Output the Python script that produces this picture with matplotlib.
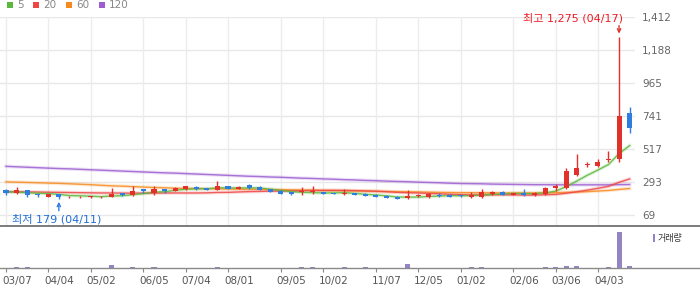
import matplotlib
matplotlib.use("Agg")
import matplotlib.pyplot as plt
import numpy as np
from matplotlib.lines import Line2D
from matplotlib.patches import Rectangle
from matplotlib.transforms import ScaledTranslation

# weekly candles, oldest first
opens = [237, 219, 237, 213, 192, 212, 190, 190, 191, 190,
         192, 217, 203, 244, 223, 244, 235, 246, 259, 252,
         241, 266, 248, 277, 259, 246, 235, 226, 224, 226,
         226, 218, 215, 217, 212, 208, 201, 195, 185, 197,
         192, 208, 208, 204, 190, 192, 212, 226, 208, 221,
         205, 210, 253, 252, 340, 409, 400, 440, 450, 759]
highs = [244, 259, 240, 215, 214, 214, 198, 197, 197, 197,
         252, 219, 264, 246, 270, 247, 257, 270, 264, 254,
         302, 270, 264, 279, 264, 248, 237, 228, 259, 264,
         228, 220, 248, 219, 219, 215, 203, 201, 237, 210,
         221, 221, 210, 206, 226, 246, 235, 235, 221, 246,
         226, 262, 284, 391, 485, 432, 450, 505, 1275, 799]
lows = [207, 212, 195, 190, 190, 179, 188, 188, 189, 188,
        190, 200, 199, 217, 203, 223, 230, 243, 243, 237,
        237, 245, 246, 250, 237, 224, 210, 203, 208, 212,
        212, 212, 208, 203, 197, 190, 183, 181, 181, 190,
        186, 194, 193, 195, 188, 188, 206, 203, 206, 197,
        201, 208, 232, 250, 338, 393, 398, 427, 427, 628]
closes = [217, 237, 203, 209, 212, 192, 196, 195, 196, 195,
          216, 205, 230, 232, 244, 232, 252, 264, 248, 241,
          270, 248, 259, 252, 241, 226, 212, 215, 228, 230,
          215, 215, 221, 205, 199, 192, 185, 182, 201, 201,
          212, 201, 195, 197, 208, 226, 226, 208, 219, 203,
          219, 255, 266, 371, 391, 416, 432, 452, 740, 662]
volumes = [0.5, 3, 3, 0.5, 0.5, 0.5, 0.5, 0.5, 0.5, 0.5,
           8, 0.5, 3, 0.5, 3, 0.5, 0.5, 0.5, 0.5, 0.5,
           3, 0.5, 0.5, 0.5, 0.5, 0.5, 0.5, 0.5, 3, 3,
           0.5, 0.5, 3, 0.5, 3, 0.5, 0.5, 0.5, 11, 0.5,
           0.5, 0.5, 0.5, 0.5, 3, 3, 0.5, 0.5, 0.5, 0.5,
           0.5, 3, 3, 5, 5, 0.5, 0.5, 3, 100, 5]

ma5 = [228, 226, 222, 218, 215.6, 210.6, 202.4, 200.8, 198.2, 194.8,
       199.6, 201.4, 208.4, 215.6, 225.4, 228.6, 238, 244.8, 248, 247.4,
       255, 254.2, 253.2, 254, 254, 245.2, 238, 229.2, 224.4, 222.2,
       220, 220.6, 221.8, 217.2, 211, 206.4, 200.4, 192.6, 191.8, 192.2,
       196.2, 199.4, 202, 201.2, 202.6, 205.4, 210.4, 213, 217.4, 216.4,
       215, 220.8, 232.4, 262.8, 300.4, 339.8, 375.2, 412.4, 486.2, 540.4]
ma20 = [228, 228, 227, 226, 225, 224, 223, 222, 221, 220,
        220, 219, 219, 219, 219, 220, 220, 220, 220, 220.8,
        223.5, 224, 226.8, 229, 230.4, 232.1, 232.9, 233.9, 235.5, 237.3,
        237.2, 237.7, 237.3, 235.9, 233.7, 231.7, 228.3, 224.2, 221.9, 219.9,
        217, 214.6, 211.4, 208.7, 207, 207, 207.7, 207.4, 206.9, 205.6,
        205.8, 207.8, 210, 218.3, 227.9, 239.1, 251.5, 265, 291.9, 315]
ma60 = [295, 293, 291, 289, 287, 285, 282, 279, 276, 272,
        268, 266, 263, 260, 257, 255, 252, 251, 250, 249,
        248, 247, 246, 245, 244, 243, 242, 241, 240, 238,
        237, 236, 235, 234, 233, 231, 230, 229, 228, 227,
        225, 224, 223, 222, 222, 221, 221, 220, 220, 220,
        220, 221, 222, 224, 226, 229, 233, 237, 244, 250]
ma120 = [400, 397, 394, 391, 388, 385, 383, 380, 377, 374,
         371, 368, 365, 362, 359, 356, 354, 351, 348, 345,
         342, 339, 336, 333, 331, 328, 326, 323, 320, 318,
         315, 313, 310, 308, 305, 303, 300, 298, 296, 293,
         291, 289, 286, 284, 283, 282, 280, 279, 278, 277,
         276, 276, 275, 275, 275, 275, 275, 275, 276, 277]

price_ticks = [69, 293, 517, 741, 965, 1188, 1412]
date_ticks = [0, 4, 8, 13, 17, 21, 26, 30, 35, 39, 43, 48, 52, 56]
date_labels = ["03/07", "04/04", "05/02", "06/05", "07/04", "08/01", "09/05",
               "10/02", "11/07", "12/05", "01/02", "02/06", "03/06", "04/03"]
ma_names = ["5", "20", "60", "120"]
high_label = "최고 1,275 (04/17)"
low_label = "최저 179 (04/11)"
vol_label = "거래량"

RED = "#e2302a"
BLUE = "#2f7de0"
MA_COLORS = ["#5cb83c", "#ee4545", "#f68a1e", "#9b5dd0"]
VOL_COLOR = "#9484c4"
FONTS = ["DejaVu Sans", "Noto Sans CJK KR"]

W, H = 700, 289


def fx(px):
    return px / W


def fy(py):
    return 1 - py / H


def draw_candles(ax, idx):
    o = np.array(opens, float)
    c = np.array(closes, float)
    colors = np.where(c >= o, RED, BLUE)
    body_lo = np.minimum(o, c)
    body_h = np.maximum(np.abs(c - o), 6)
    ax.vlines(idx, lows, highs, colors=colors, lw=1, zorder=4)
    ax.bar(idx, body_h, bottom=body_lo, width=0.48, color=colors, lw=0, zorder=5)


def main() -> None:
    plt.rcParams["font.family"] = FONTS
    fig = plt.figure(figsize=(W / 100, H / 100), dpi=100)
    idx = np.arange(len(closes))
    x0 = -6 / 10.57
    x1 = (635 - 6) / 10.57

    ax = fig.add_axes([0, fy(226), fx(635), fy(16.7) - fy(226)])
    vax = fig.add_axes([0, fy(268), fx(635), fy(226) - fy(268)], sharex=ax)

    for a in (ax, vax):
        for s in a.spines.values():
            s.set_visible(False)

    for t in price_ticks:
        ax.axhline(t, color="#e8e8e8", lw=1, zorder=0)
    for t in date_ticks:
        ax.axvline(t, color="#ececec", lw=1, zorder=0)

    for vals, col in zip([ma120, ma60, ma20, ma5], MA_COLORS[::-1]):
        ax.plot(idx, vals, color=col, lw=2.6, alpha=0.18, zorder=2)
        ax.plot(idx, vals, color=col, lw=1.0, alpha=0.85, zorder=3)

    draw_candles(ax, idx)

    ax.set_xlim(x0, x1)
    ax.set_ylim(-3.4, 1412)
    ax.yaxis.tick_right()
    ax.set_yticks(price_ticks)
    ax.set_yticklabels([f"{t:,}" for t in price_ticks])
    ax.tick_params(axis="y", length=0, pad=5, labelsize=7.5, labelcolor="#666666")
    ax.tick_params(axis="x", length=0, labelbottom=False)

    hi = int(np.argmax(highs))
    lo = int(np.argmin(lows))
    ax.annotate("", xy=(hi, highs[hi]), xytext=(0, 8.2), textcoords="offset points",
                arrowprops=dict(arrowstyle="->", color=RED, lw=1, shrinkA=0,
                                shrinkB=2.4, mutation_scale=6))
    ax.annotate(high_label, xy=(hi, highs[hi]), xytext=(2.5, 13.5),
                textcoords="offset points", ha="right", va="center",
                color="#ee1c24", fontsize=8, annotation_clip=False)
    ax.annotate("", xy=(lo, lows[lo]), xytext=(0, -8.4), textcoords="offset points",
                arrowprops=dict(arrowstyle="->", color=BLUE, lw=1, shrinkA=0,
                                shrinkB=2.0, mutation_scale=6))
    ax.annotate(low_label, xy=(lo, lows[lo]), xytext=(-34, -14.6),
                textcoords="offset points", ha="left", va="center",
                color="#1f6fd6", fontsize=8, annotation_clip=False)

    vax.bar(idx, volumes, width=0.48, color=VOL_COLOR, lw=0)
    vax.set_ylim(0, 117)
    vax.set_yticks([])
    vax.set_xticks(date_ticks)
    vax.set_xticklabels(date_labels)
    vax.tick_params(axis="x", length=3, width=0.8, color="#888888", pad=3,
                    labelsize=7.5, labelcolor="#555555")
    # labels start just left of their tick
    shift = ScaledTranslation(-4 / 100, 0, fig.dpi_scale_trans)
    for lab in vax.get_xticklabels():
        lab.set_horizontalalignment("left")
        lab.set_transform(lab.get_transform() + shift)

    fig.add_artist(Line2D([0, 1], [fy(226), fy(226)], color="#666666", lw=1.2,
                          transform=fig.transFigure))
    fig.add_artist(Line2D([0, 1], [fy(268), fy(268)], color="#8a8a8a", lw=1,
                          transform=fig.transFigure))

    # legend of moving averages
    legend_x = [7.3, 33.3, 66.3, 99.3]
    for lx, name, col in zip(legend_x, ma_names, MA_COLORS):
        fig.add_artist(Rectangle((fx(lx), fy(8.3)), fx(6), 6 / H, color=col,
                                 transform=fig.transFigure, lw=0))
        fig.text(fx(lx + 10), fy(5.3), name, color="#888888", fontsize=7.5,
                 va="center", ha="left")

    fig.add_artist(Rectangle((fx(652.7), fy(241.7)), fx(2.7), 7.7 / H, color=VOL_COLOR,
                             transform=fig.transFigure, lw=0))
    fig.text(fx(657.5), fy(238), vol_label, color="#333333", fontsize=6.5,
             va="center", ha="left")

    fig.savefig("out.png", dpi=100)
    plt.close(fig)


if __name__ == "__main__":
    main()
